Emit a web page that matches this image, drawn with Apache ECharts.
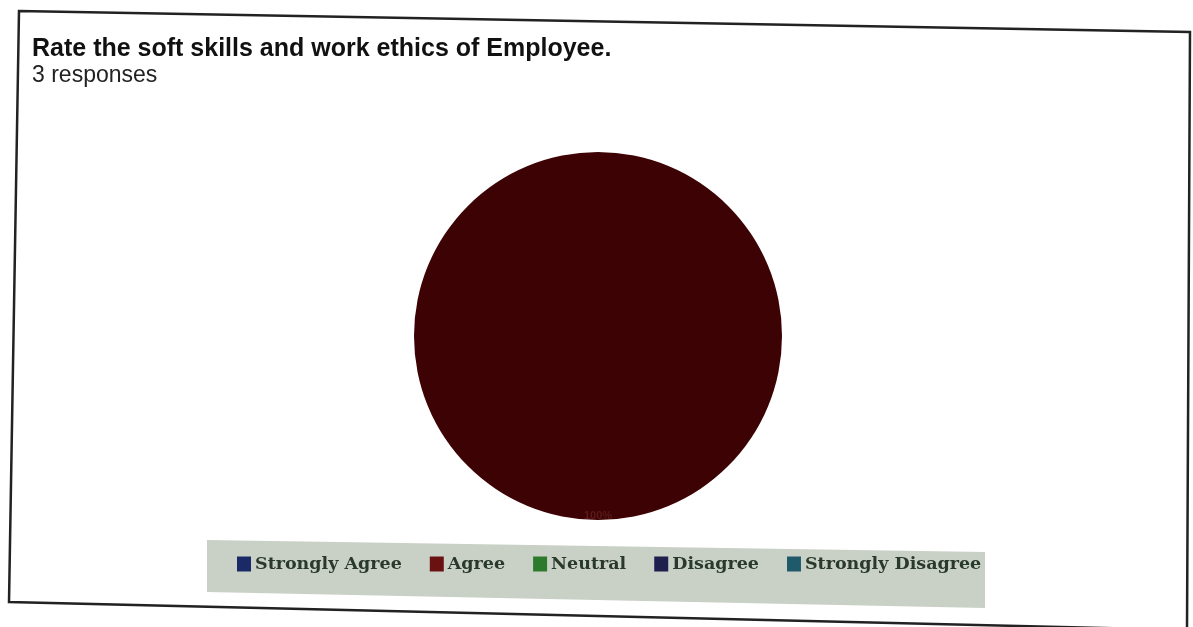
<!DOCTYPE html>
<html><head><meta charset="utf-8">
<script src="https://cdn.jsdelivr.net/npm/echarts@6/dist/echarts.min.js"></script>
<style>html,body{margin:0;padding:0;background:#fff}#c{width:1193px;height:627px}</style>
</head><body><div id="c"></div>
<script>
const titleText = 'Rate the soft skills and work ethics of Employee.';
const subText = '3 responses';
const categories = ['Strongly Agree', 'Agree', 'Neutral', 'Disagree', 'Strongly Disagree'];
const counts = [0, 3, 0, 0, 0];
const colors = ['#1b2a66', '#6a1212', '#2c7a2c', '#1f1f4e', '#1e5a6a'];

const total = counts.reduce((a, b) => a + b, 0);
const chart = echarts.init(document.getElementById('c'));
chart.setOption({
  backgroundColor: '#ffffff',
  title: {
    text: titleText, subtext: subText, left: 27, top: 32, itemGap: 2,
    textStyle: {fontFamily: 'Liberation Sans', fontWeight: 'bold', fontSize: 25, color: '#111'},
    subtextStyle: {fontFamily: 'Liberation Sans', fontSize: 23, color: '#222'}
  },
  graphic: [
    {type: 'polygon', z: -1, shape: {points: [[19, 11], [1190, 32], [1187, 630], [9, 602]]},
     style: {fill: 'none', stroke: '#222', lineWidth: 2.5}},
    {type: 'polygon', z: -1, shape: {points: [[207, 540], [985, 552], [985, 608], [207, 592]]},
     style: {fill: '#c9d0c6', stroke: 'none'}}
  ],
  legend: {
    data: categories.map((c, i) => ({name: c, itemStyle: {color: colors[i]}})),
    left: 232, top: 550, itemGap: 28, itemWidth: 14, itemHeight: 15,
    icon: 'rect', selectedMode: false,
    textStyle: {fontFamily: 'DejaVu Serif', fontWeight: 'bold', fontSize: 17.5, color: '#2a3a2a', padding: [0, 0, 0, -1]}
  },
  series: [{
    type: 'pie', center: [598, 336], radius: 184, startAngle: 90,
    silent: true,
    label: {position: 'inside', color: '#5a1a1a', fontSize: 11, fontWeight: 'bold',
      formatter: (p) => p.value ? Math.round(p.value / total * 100) + '%' : ''},
    labelLayout: {dy: 85},
    data: categories.map((c, i) => ({name: c, value: counts[i],
      itemStyle: {color: i === 1 ? '#3c0204' : colors[i]}}))
  }]
});
</script></body></html>
